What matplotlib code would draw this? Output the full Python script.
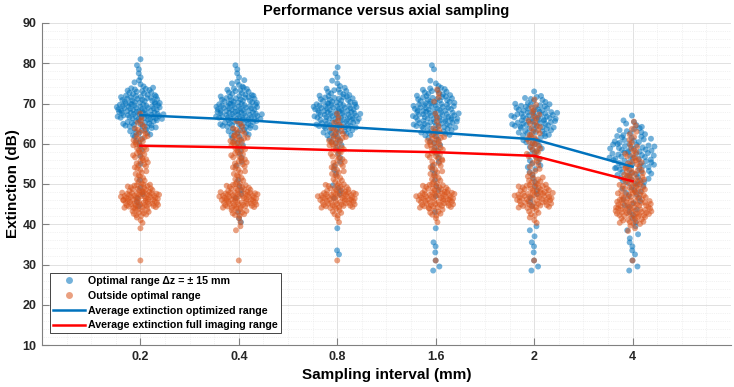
import matplotlib.pyplot as plt
from matplotlib.ticker import MultipleLocator
from matplotlib.lines import Line2D

plt.rcParams['font.family'] = ['Liberation Sans', 'DejaVu Sans']

# Sampling intervals (categorical x axis)
intervals = ['0.2', '0.4', '0.8', '1.6', '2', '4']

# Averages (dB)
avg_optimal = [67.1, 66.0, 64.3, 62.8, 61.1, 54.3]
avg_full = [59.5, 59.1, 58.4, 57.9, 57.0, 50.7]

# Point counts per 2 dB bin (key = lower bin edge)
blue_02 = {80: 1, 78: 2, 76: 2, 74: 4, 72: 14, 70: 22, 68: 28, 66: 28, 64: 18, 62: 10,
           60: 4, 58: 2, 56: 1, 54: 1, 50: 1, 48: 1, 46: 2, 44: 2}
orange_02 = {30: 1, 38: 1, 40: 3, 42: 12, 44: 28, 46: 32, 48: 18, 50: 6, 52: 6, 54: 8,
             56: 8, 58: 8, 60: 8, 62: 6, 64: 4, 66: 2}

blue_04 = {78: 2, 76: 2, 74: 5, 72: 12, 70: 20, 68: 26, 66: 28, 64: 20, 62: 10, 60: 5,
           58: 3, 56: 2, 54: 2, 50: 1, 48: 2, 46: 2, 42: 1, 40: 2}
orange_04 = {30: 1, 38: 2, 40: 2, 42: 10, 44: 26, 46: 30, 48: 16, 50: 6, 52: 6, 54: 8,
             56: 8, 58: 8, 60: 10, 62: 6, 64: 3}

blue_08 = {78: 1, 76: 2, 74: 3, 72: 10, 70: 18, 68: 26, 66: 26, 64: 22, 62: 14, 60: 6,
           58: 3, 56: 2, 54: 2, 52: 2, 48: 3, 46: 2, 38: 1, 32: 2}
orange_08 = {30: 1, 40: 2, 42: 6, 44: 24, 46: 28, 48: 14, 50: 6, 52: 6, 54: 7, 56: 6,
             58: 8, 60: 9, 62: 6, 64: 4, 66: 2}

blue_16 = {78: 2, 74: 3, 72: 12, 70: 18, 68: 22, 66: 24, 64: 22, 62: 14, 60: 5, 58: 3,
           56: 2, 54: 2, 52: 2, 50: 1, 48: 2, 46: 1, 42: 1, 38: 1, 34: 2, 32: 1, 30: 1, 28: 2}
orange_16 = {30: 1, 40: 2, 42: 8, 44: 24, 46: 28, 48: 16, 50: 6, 52: 6, 54: 6, 56: 8,
             58: 9, 60: 9, 62: 5, 64: 2, 66: 2, 70: 2, 72: 2}

blue_2 = {72: 1, 70: 8, 68: 16, 66: 22, 64: 20, 62: 14, 60: 8, 58: 6, 56: 4, 54: 5,
          52: 3, 50: 2, 48: 2, 46: 2, 44: 2, 38: 2, 36: 1, 34: 2, 32: 1, 30: 1, 28: 2}
orange_2 = {30: 1, 40: 3, 42: 6, 44: 20, 46: 24, 48: 18, 50: 8, 52: 4, 54: 4, 56: 6,
            58: 6, 60: 6, 62: 5, 64: 5, 66: 4, 68: 3, 70: 1}

blue_4 = {66: 1, 64: 5, 62: 8, 60: 12, 58: 16, 56: 16, 54: 14, 52: 12, 50: 10, 48: 6,
          46: 5, 44: 4, 42: 3, 40: 2, 38: 2, 36: 2, 34: 2, 32: 2, 30: 1, 28: 2}
orange_4 = {64: 2, 62: 3, 60: 3, 58: 4, 56: 6, 54: 8, 52: 10, 50: 12, 48: 14, 46: 16,
            44: 22, 42: 24, 40: 14, 38: 3, 30: 1}

blue_sets = [blue_02, blue_04, blue_08, blue_16, blue_2, blue_4]
orange_sets = [orange_02, orange_04, orange_08, orange_16, orange_2, orange_4]

BLUE = '#0072BD'
ORANGE = '#D95319'


def radical_inverse(i, base=2):
    f, r = 1.0, 0.0
    while i > 0:
        f /= base
        r += f * (i % base)
        i //= base
    return r


def swarm(center, counts, half_width):
    # spread each bin's points inside the bin; width follows the bin density
    nmax = max(counts.values())
    xs, ys = [], []
    for lo, n in counts.items():
        w = half_width * (n / nmax) ** 0.7
        shift = (lo * 0.3819) % 1
        for i in range(n):
            fx = (radical_inverse(i + 1) + shift) % 1 if n > 1 else 0.5 + 0.3 * (shift - 0.5)
            fy = (i + 0.5) / n
            xs.append(center + w * (2 * fx - 1))
            ys.append(lo + 2 * fy)
    return xs, ys


fig = plt.figure(figsize=(7.34, 3.87), dpi=100)
ax = fig.add_axes([42 / 734, 1 - 345 / 387, 689 / 734, 322 / 387])

for k, (b, o) in enumerate(zip(blue_sets, orange_sets)):
    pos = k + 1
    xb, yb = swarm(pos, b, 0.24)
    ax.scatter(xb, yb, s=18, color=BLUE, alpha=0.55, edgecolors='none', zorder=3)
    xo, yo = swarm(pos, o, 0.20)
    ax.scatter(xo, yo, s=18, color=ORANGE, alpha=0.55, edgecolors='none', zorder=3)

xpos = list(range(1, len(intervals) + 1))
ax.plot(xpos, avg_optimal, color=BLUE, lw=1.8, zorder=4)
ax.plot(xpos, avg_full, color='#FF0000', lw=1.8, zorder=4)

ax.set_xlim(0, 7)
ax.set_ylim(10, 90)
ax.set_xticks(xpos)
ax.set_xticklabels(intervals)
ax.set_yticks(range(10, 91, 10))
ax.xaxis.set_minor_locator(MultipleLocator(0.25))
ax.yaxis.set_minor_locator(MultipleLocator(2))

ax.grid(True, which='major', color='#dcdcdc', lw=0.6, zorder=0)
ax.grid(True, which='minor', color='#e6e6e6', lw=0.5, linestyle=':', zorder=0)
ax.set_axisbelow(True)

for side in ['top', 'right']:
    ax.spines[side].set_visible(False)
for side in ['left', 'bottom']:
    ax.spines[side].set_color('#808080')
    ax.spines[side].set_linewidth(0.8)
ax.tick_params(which='major', direction='in', length=5, color='#808080', width=0.8,
               labelsize=9, labelcolor='#262626', pad=4)
ax.tick_params(which='minor', length=0)
for lab in ax.get_xticklabels() + ax.get_yticklabels():
    lab.set_fontweight('bold')

ax.set_title('Performance versus axial sampling', fontsize=10.5, fontweight='bold', pad=6)
ax.set_xlabel('Sampling interval (mm)', fontsize=11, fontweight='bold', labelpad=4)
ax.set_ylabel('Extinction (dB)', fontsize=11, fontweight='bold')
ax.yaxis.set_label_coords(-22 / 689, 0.5)

handles = [
    Line2D([], [], marker='o', ls='none', color=BLUE, alpha=0.55, markersize=5, markeredgewidth=0),
    Line2D([], [], marker='o', ls='none', color=ORANGE, alpha=0.55, markersize=5, markeredgewidth=0),
    Line2D([], [], color=BLUE, lw=1.8),
    Line2D([], [], color='#FF0000', lw=1.8),
]
labels = ['Optimal range \u0394z = \u00b1 15 mm', 'Outside optimal range',
          'Average extinction optimized range', 'Average extinction full imaging range']
leg = ax.legend(handles, labels, loc='upper left', bbox_to_anchor=(0.0116, 0.2236),
                borderaxespad=0, fancybox=False, framealpha=1, edgecolor='#262626',
                prop={'weight': 'bold', 'size': 7.7}, handlelength=3.0, handletextpad=0.3,
                labelspacing=0.45, borderpad=0.28)
leg.get_frame().set_linewidth(0.6)

fig.savefig('out.png', dpi=100)
